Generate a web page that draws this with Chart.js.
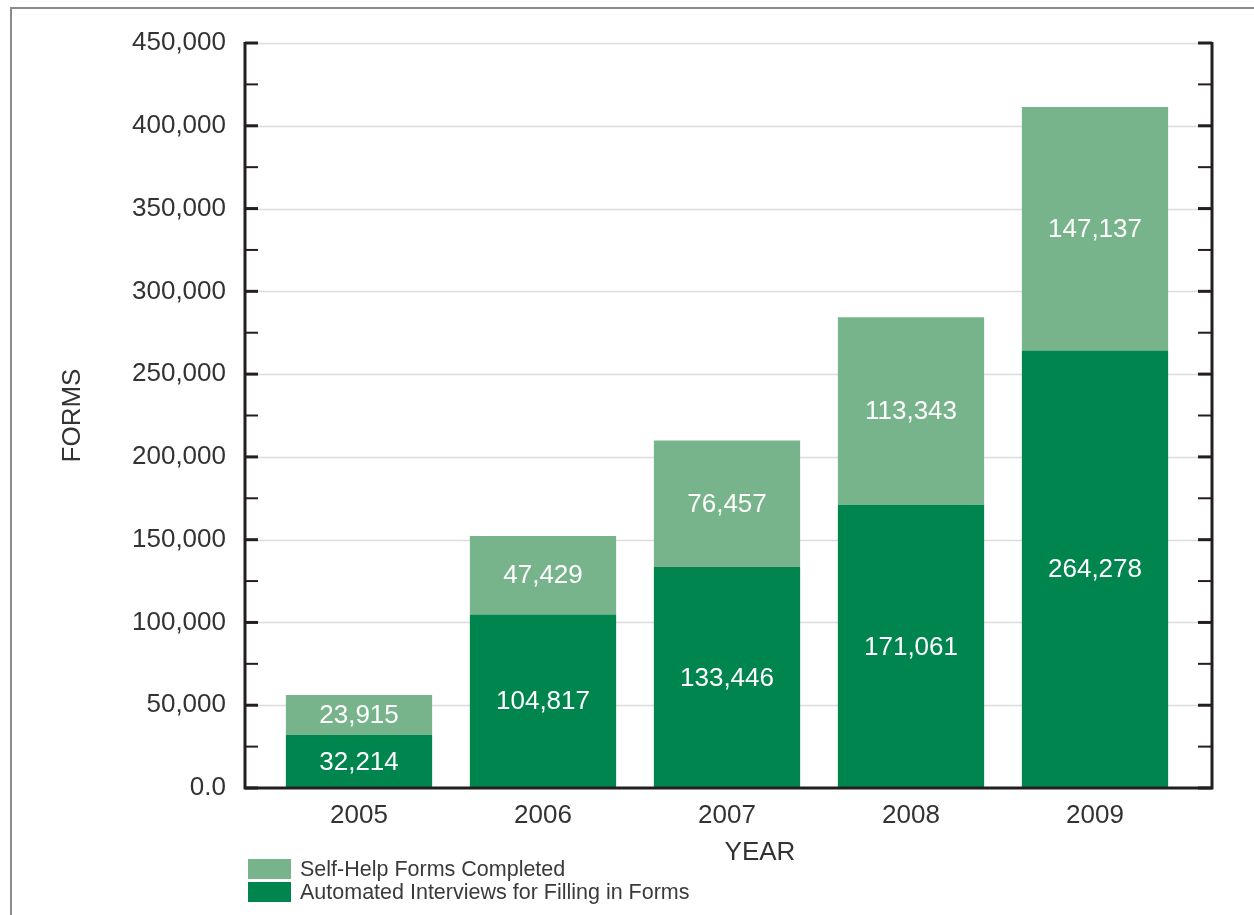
<!DOCTYPE html>
<html>
<head>
<meta charset="utf-8">
<title>Forms completed by year</title>
<script src="https://cdn.jsdelivr.net/npm/chart.js@4.4.1/dist/chart.umd.min.js"></script>
<style>
  body { margin: 0; background: #fff; }
  #wrap { position: relative; width: 1254px; height: 915px; }
  #frame { position: absolute; left: 10px; top: 7px; right: 0; bottom: 0;
           border-left: 2px solid #8c8c8c; border-top: 2px solid #8c8c8c; }
  #legend { position: absolute; left: 248px; top: 859px;
            font-family: "Liberation Sans", Arial, sans-serif; font-size: 21.5px; color: #3a3a3a; }
  #legend .row { display: flex; align-items: center; height: 20px; margin-bottom: 3px; }
  #legend .box { width: 43px; height: 20px; margin-right: 9px; }
</style>
</head>
<body>
<div id="wrap">
  <div id="frame"></div>
  <canvas id="chart" width="1254" height="915"></canvas>
  <div id="legend"></div>
</div>
<script>
// data
var years = ['2005', '2006', '2007', '2008', '2009'];
var automated = [32214, 104817, 133446, 171061, 264278];
var selfHelp = [23915, 47429, 76457, 113343, 147137];
var yMax = 450000;
var yStep = 50000;

var DARK = '#00854f';
var LIGHT = '#78b48b';
var INK = '#333333';
var FONT = '"Liberation Sans", Arial, sans-serif';

function fmt(v) {
  return v === 0 ? '0.0' : v.toLocaleString('en-US');
}

// axis lines, ticks on both sides, gridlines - the frame sits a bit outside the bars
var framePlugin = {
  id: 'frame',
  beforeDatasetsDraw: function(chart) {
    var ctx = chart.ctx, a = chart.chartArea, y = chart.scales.y;
    var left = a.left - 22, right = a.right + 25;
    ctx.save();
    ctx.strokeStyle = '#dcdcdc';
    ctx.lineWidth = 1.5;
    for (var v = yStep; v <= yMax; v += yStep) {
      var py = Math.round(y.getPixelForValue(v)) + 0.5;
      ctx.beginPath(); ctx.moveTo(left, py); ctx.lineTo(right, py); ctx.stroke();
    }
    ctx.restore();
  },
  afterDatasetsDraw: function(chart) {
    var ctx = chart.ctx, a = chart.chartArea, y = chart.scales.y;
    var left = a.left - 22, right = a.right + 25, bottom = a.bottom;
    ctx.save();
    ctx.strokeStyle = '#231f20';
    // minor + major ticks every 25,000
    for (var v = 0; v <= yMax; v += yStep / 2) {
      var major = v % yStep === 0;
      var py = y.getPixelForValue(v);
      ctx.lineWidth = major ? 3 : 2;
      ctx.beginPath(); ctx.moveTo(left, py); ctx.lineTo(left + 13, py); ctx.stroke();
      ctx.beginPath(); ctx.moveTo(right, py); ctx.lineTo(right - 14, py); ctx.stroke();
    }
    ctx.lineWidth = 3;
    ctx.beginPath();
    ctx.moveTo(left, a.top - 1);
    ctx.lineTo(left, bottom);
    ctx.lineTo(right, bottom);
    ctx.lineTo(right, a.top - 1);
    ctx.stroke();

    // x axis title
    ctx.fillStyle = INK;
    ctx.font = '26px ' + FONT;
    ctx.textAlign = 'center';
    ctx.textBaseline = 'middle';
    ctx.fillText('YEAR', (a.left + a.right) / 2 + 33, 853);
    ctx.restore();
  }
};

// white value labels in the middle of each bar segment
var valueLabels = {
  id: 'valueLabels',
  afterDatasetsDraw: function(chart) {
    var ctx = chart.ctx;
    ctx.save();
    ctx.fillStyle = '#ffffff';
    ctx.font = '26px ' + FONT;
    ctx.textAlign = 'center';
    ctx.textBaseline = 'middle';
    chart.data.datasets.forEach(function(ds, i) {
      chart.getDatasetMeta(i).data.forEach(function(bar, j) {
        ctx.fillText(fmt(ds.data[j]), bar.x, (bar.y + bar.base) / 2 + 1);
      });
    });
    ctx.restore();
  }
};

var chart = new Chart(document.getElementById('chart'), {
  type: 'bar',
  data: {
    labels: years,
    datasets: [
      { label: 'Automated Interviews for Filling in Forms', data: automated, backgroundColor: DARK },
      { label: 'Self-Help Forms Completed', data: selfHelp, backgroundColor: LIGHT }
    ]
  },
  options: {
    responsive: false,
    animation: false,
    layout: { padding: { left: 57, right: 67, top: 43, bottom: 77 } },
    datasets: { bar: { categoryPercentage: 1, barPercentage: 0.795 } },
    plugins: { legend: { display: false }, tooltip: { enabled: false } },
    scales: {
      x: {
        stacked: true,
        grid: { display: false, drawTicks: false },
        border: { display: false },
        ticks: { padding: 12, color: INK, font: { family: FONT, size: 26 } },
        afterFit: function(s) { s.height = 50; }
      },
      y: {
        stacked: true,
        min: 0,
        max: yMax,
        grid: { display: false, drawTicks: false },
        border: { display: false },
        ticks: { stepSize: yStep, padding: 41, color: INK, font: { family: FONT, size: 26 },
                 callback: function(v) { return fmt(v); } },
        title: { display: true, text: 'FORMS', padding: 0, color: INK, font: { family: FONT, size: 26 } },
        // fixed width, and no extra room for the top label (layout padding covers it)
        afterFit: function(s) { s.width = 210; s.paddingTop = 0; s.paddingBottom = 0; }
      }
    }
  },
  plugins: [framePlugin, valueLabels]
});

// legend: light series on top, as in the stack
var legend = document.getElementById('legend');
chart.data.datasets.slice().reverse().forEach(function(ds) {
  var row = document.createElement('div');
  row.className = 'row';
  var box = document.createElement('span');
  box.className = 'box';
  box.style.background = ds.backgroundColor;
  var txt = document.createElement('span');
  txt.textContent = ds.label;
  row.appendChild(box);
  row.appendChild(txt);
  legend.appendChild(row);
});
</script>
</body>
</html>
